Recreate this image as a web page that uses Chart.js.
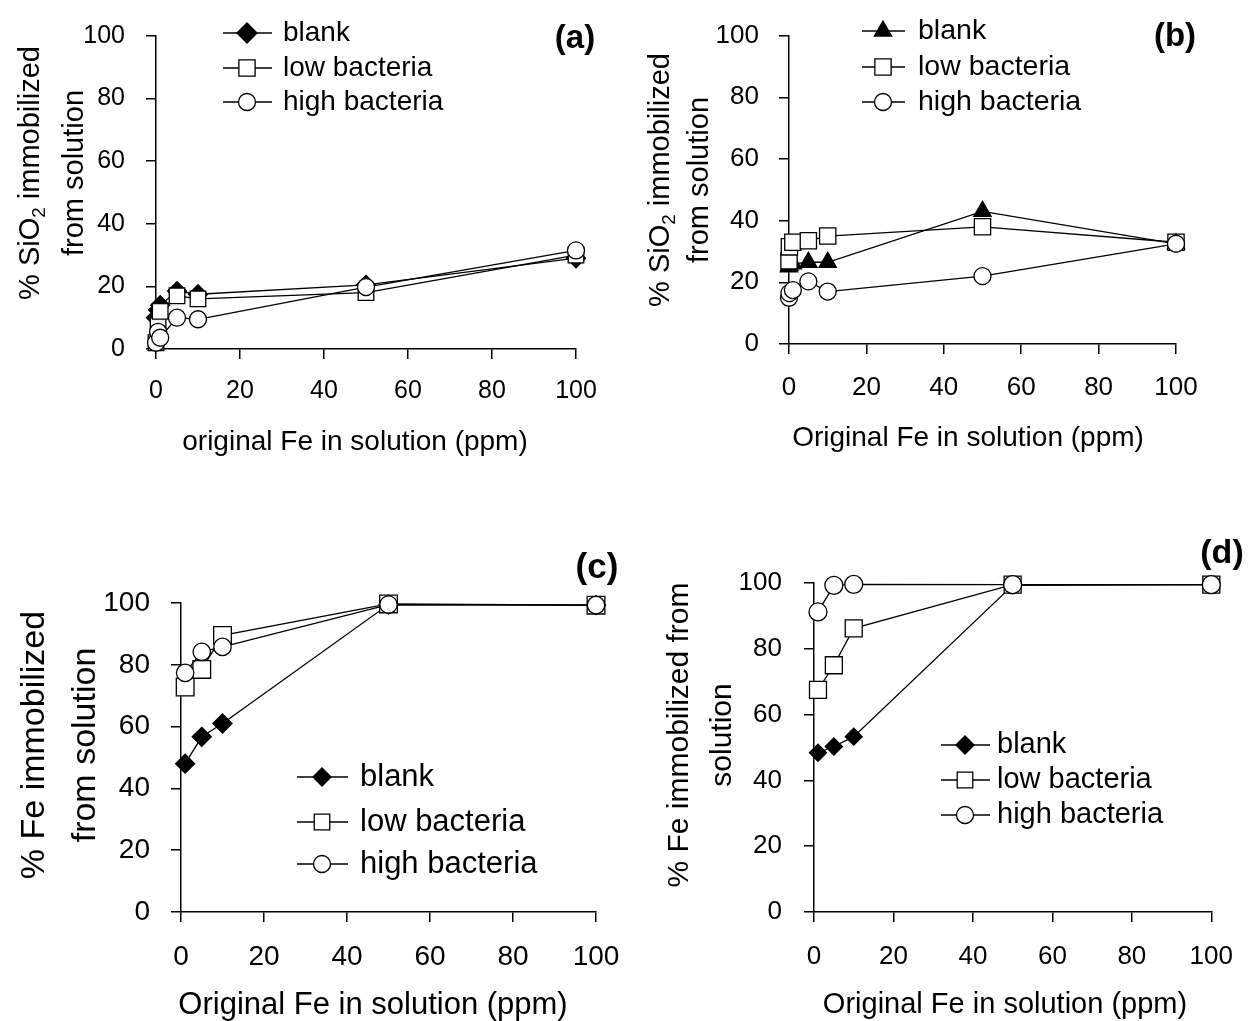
<!DOCTYPE html>
<html><head><meta charset="utf-8">
<script src="https://cdn.jsdelivr.net/npm/chart.js@4.4.1/dist/chart.umd.min.js"></script>
<style>
html,body{margin:0;padding:0;background:#fff;}
#wrap{position:relative;width:1252px;height:1021px;background:#fff;}
canvas{position:absolute;left:0;top:0;}
</style></head><body>
<div id="wrap">
<canvas id="ca" width="1252" height="1021"></canvas>
<canvas id="cb" width="1252" height="1021"></canvas>
<canvas id="cc" width="1252" height="1021"></canvas>
<canvas id="cd" width="1252" height="1021"></canvas>
</div>
<script>
// ---------- data ----------
const seriesNames = ['blank', 'low bacteria', 'high bacteria'];
const xTickValues = [0, 20, 40, 60, 80, 100];
const yTickValues = [0, 20, 40, 60, 80, 100];

// (a) % SiO2 immobilized vs original Fe
const aX     = [0, 0.5, 1, 5, 10, 50, 100];
const aBlank = [10, 12.5, 14, 18.5, 17.5, 20.5, 29];
const aLow   = [2, 7.5, 12, 17, 16, 18, 30];
const aHigh  = [2, 5.5, 3.6, 10, 9.5, 19.8, 31.5];

// (b) % SiO2 immobilized vs Original Fe
const bX     = [0, 0.1, 1, 5, 10, 50, 100];
const bBlank = [25, 25.5, 26, 26.5, 26.5, 43, 32.5];
const bLow   = [27, 31.5, 33, 33.5, 35, 38, 33];
const bHigh  = [15, 16.5, 17.5, 20.3, 17, 22, 32.5];

// (c) % Fe immobilized
const cX     = [1, 5, 10, 50, 100];
const cBlank = [48, 56.7, 61, 99.5, 99.3];
const cLow   = [72.8, 78.5, 89.5, 99.7, 99.3];
const cHigh  = [77.4, 84.2, 85.8, 99.5, 99.3];

// (d) % Fe immobilized
const dX     = [1, 5, 10, 50, 100];
const dBlank = [48.4, 50.3, 53.3, 99.3, 99.5];
const dLow   = [67.5, 75, 86.2, 99.5, 99.5];
const dHigh  = [91.2, 99.3, 99.6, 99.5, 99.5];

// ---------- drawing helpers ----------
const FAMILY = '"Liberation Sans", Arial, Helvetica, sans-serif';
const CW = 1252, CH = 1021, SW = 120, SH = 100;

function drawRich(ctx, segs, cx, cy, rot, size, bold) {
  ctx.save();
  ctx.translate(cx, cy);
  ctx.rotate(rot);
  ctx.textBaseline = 'alphabetic';
  ctx.textAlign = 'left';
  const w = bold ? 'bold ' : '';
  let total = 0;
  const widths = segs.map(s => {
    ctx.font = w + (s.sub ? size * 0.65 : size) + 'px ' + FAMILY;
    const m = ctx.measureText(s.t).width;
    total += m;
    return m;
  });
  let x = -total / 2;
  const base = size * 0.35;
  segs.forEach((s, i) => {
    ctx.font = w + (s.sub ? size * 0.65 : size) + 'px ' + FAMILY;
    ctx.fillText(s.t, x, base + (s.sub ? size * 0.2 : 0));
    x += widths[i];
  });
  ctx.restore();
}

function drawMarker(ctx, style, r, x, y, fill) {
  ctx.save();
  ctx.beginPath();
  if (style === 'rectRot') {
    ctx.moveTo(x - r, y); ctx.lineTo(x, y - r); ctx.lineTo(x + r, y); ctx.lineTo(x, y + r); ctx.closePath();
  } else if (style === 'rect') {
    const s = Math.SQRT1_2 * r;
    ctx.rect(x - s, y - s, 2 * s, 2 * s);
  } else if (style === 'triangle') {
    for (let k = 0; k < 3; k++) {
      const a = k * 2 * Math.PI / 3;
      const px = x + Math.sin(a) * r, py = y - Math.cos(a) * r;
      if (k === 0) ctx.moveTo(px, py); else ctx.lineTo(px, py);
    }
    ctx.closePath();
  } else {
    ctx.arc(x, y, r, 0, Math.PI * 2);
  }
  ctx.fillStyle = fill;
  ctx.fill();
  ctx.lineWidth = 1.3;
  ctx.strokeStyle = '#000';
  ctx.stroke();
  ctx.restore();
}

const panelText = {
  id: 'panelText',
  afterDraw(chart, args, o) {
    const ctx = chart.ctx;
    ctx.save();
    ctx.fillStyle = '#000';
    drawRich(ctx, [{t: o.xTitle.text}], o.xTitle.x, o.xTitle.y, 0, o.xTitle.size, false);
    o.yTitle.lines.forEach((segs, i) => {
      drawRich(ctx, segs, o.yTitle.xs[i], o.yTitle.y, -Math.PI / 2, o.yTitle.size, false);
    });
    drawRich(ctx, [{t: o.label.text}], o.label.x, o.label.y, 0, o.label.size, true);
    const L = o.legend;
    chart.data.datasets.forEach((ds, i) => {
      const y = L.ys[i];
      ctx.save();
      ctx.strokeStyle = '#000';
      ctx.lineWidth = 1.3;
      ctx.beginPath();
      ctx.moveTo(L.x0, y); ctx.lineTo(L.x1, y);
      ctx.stroke();
      ctx.restore();
      drawMarker(ctx, ds.pointStyle, L.radii[i], L.xm, y, ds.pointBackgroundColor);
      ctx.font = L.size + 'px ' + FAMILY;
      ctx.textAlign = 'left';
      ctx.textBaseline = 'middle';
      ctx.fillStyle = '#000';
      ctx.fillText(ds.label, L.xt, y);
    });
    ctx.restore();
  }
};

function makeChart(p) {
  const styles = [p.blankStyle, 'rect', 'circle'];
  const fills = ['#000', '#fff', '#fff'];
  const datasets = p.ys.map((ys, i) => ({
    label: seriesNames[i],
    data: p.x.map((xv, j) => ({x: xv, y: ys[j]})),
    borderColor: '#000',
    borderWidth: 1.3,
    pointStyle: styles[i],
    pointRadius: p.radii[i],
    pointHoverRadius: p.radii[i],
    pointBackgroundColor: fills[i],
    pointBorderColor: '#000',
    pointBorderWidth: 1.3,
    tension: 0,
    fill: false,
    clip: false,
    order: 3 - i
  }));
  const a = p.area;
  const axisCommon = {
    type: 'linear', min: 0, max: 100,
    grid: {drawOnChartArea: false, drawTicks: true, tickLength: 10, color: '#000', lineWidth: 1.5},
    border: {display: true, color: '#000', width: 1.5}
  };
  return new Chart(document.getElementById(p.id), {
    type: 'line',
    data: {datasets},
    plugins: [panelText],
    options: {
      responsive: false,
      animation: false,
      devicePixelRatio: 1,
      events: [],
      layout: {padding: {left: a.l - SW, right: CW - a.r, top: a.t, bottom: CH - a.b - SH}},
      plugins: {
        legend: {display: false},
        tooltip: {enabled: false},
        panelText: p.text
      },
      scales: {
        x: Object.assign({}, axisCommon, {
          position: 'bottom',
          ticks: {color: '#000', font: {family: FAMILY, size: p.tickSize}, padding: p.xPad, maxRotation: 0, autoSkip: false},
          afterBuildTicks: s => { s.ticks = xTickValues.map(v => ({value: v})); },
          afterFit: s => { s.height = SH; }
        }),
        y: Object.assign({}, axisCommon, {
          position: 'left',
          ticks: {color: '#000', font: {family: FAMILY, size: p.tickSize}, padding: p.yPad},
          afterBuildTicks: s => { s.ticks = yTickValues.map(v => ({value: v})); },
          afterFit: s => { s.width = SW; }
        })
      }
    }
  });
}

const siO2Title = [[{t: '% SiO'}, {t: '2', sub: true}, {t: ' immobilized'}], [{t: 'from solution'}]];

makeChart({
  id: 'ca', x: aX, ys: [aBlank, aLow, aHigh], blankStyle: 'rectRot', radii: [9.5, 11, 8.5],
  area: {l: 156, r: 576, t: 20, b: 349}, tickSize: 25, xPad: 17, yPad: 21,
  text: {
    xTitle: {text: 'original Fe in solution (ppm)', x: 355, y: 440, size: 28},
    yTitle: {lines: siO2Title, xs: [29, 73], y: 173, size: 29},
    label: {text: '(a)', x: 575, y: 36, size: 33},
    legend: {ys: [33, 68, 102], x0: 223, x1: 272, xm: 247, xt: 283, size: 28, radii: [10, 11.5, 8.5]}
  }
});

makeChart({
  id: 'cb', x: bX, ys: [bBlank, bLow, bHigh], blankStyle: 'triangle', radii: [10, 11.5, 8.5],
  area: {l: 789, r: 1176, t: 20, b: 344}, tickSize: 26, xPad: 18, yPad: 20,
  text: {
    xTitle: {text: 'Original Fe in solution (ppm)', x: 968, y: 436, size: 28},
    yTitle: {lines: siO2Title, xs: [659, 698], y: 180, size: 29},
    label: {text: '(b)', x: 1175, y: 34, size: 33},
    legend: {ys: [31, 67, 102], x0: 862, x1: 905, xm: 883, xt: 918, size: 28.5, radii: [10, 11.5, 8.5]}
  }
});

makeChart({
  id: 'cc', x: cX, ys: [cBlank, cLow, cHigh], blankStyle: 'rectRot', radii: [9.5, 12.5, 8.7],
  area: {l: 181, r: 596, t: 603, b: 912}, tickSize: 28, xPad: 18, yPad: 21,
  text: {
    xTitle: {text: 'Original Fe in solution (ppm)', x: 373, y: 1003, size: 31},
    yTitle: {lines: [[{t: '% Fe immobilized'}], [{t: 'from solution'}]], xs: [32, 83], y: 745, size: 34},
    label: {text: '(c)', x: 597, y: 566, size: 35},
    legend: {ys: [777, 822, 864], x0: 297, x1: 348, xm: 322, xt: 360, size: 31, radii: [9, 11, 8.5]}
  }
});

makeChart({
  id: 'cd', x: dX, ys: [dBlank, dLow, dHigh], blankStyle: 'rectRot', radii: [8.5, 12, 9],
  area: {l: 814, r: 1220, t: 583, b: 912}, tickSize: 26, xPad: 19, yPad: 22,
  text: {
    xTitle: {text: 'Original Fe in solution (ppm)', x: 1005, y: 1003, size: 29},
    yTitle: {lines: [[{t: '% Fe immobilized from'}], [{t: 'solution'}]], xs: [677, 720], y: 735, size: 30},
    label: {text: '(d)', x: 1222, y: 551, size: 34},
    legend: {ys: [745, 780, 815], x0: 941, x1: 990, xm: 965, xt: 997, size: 29, radii: [9, 11, 8.5]}
  }
});
</script>
</body></html>
